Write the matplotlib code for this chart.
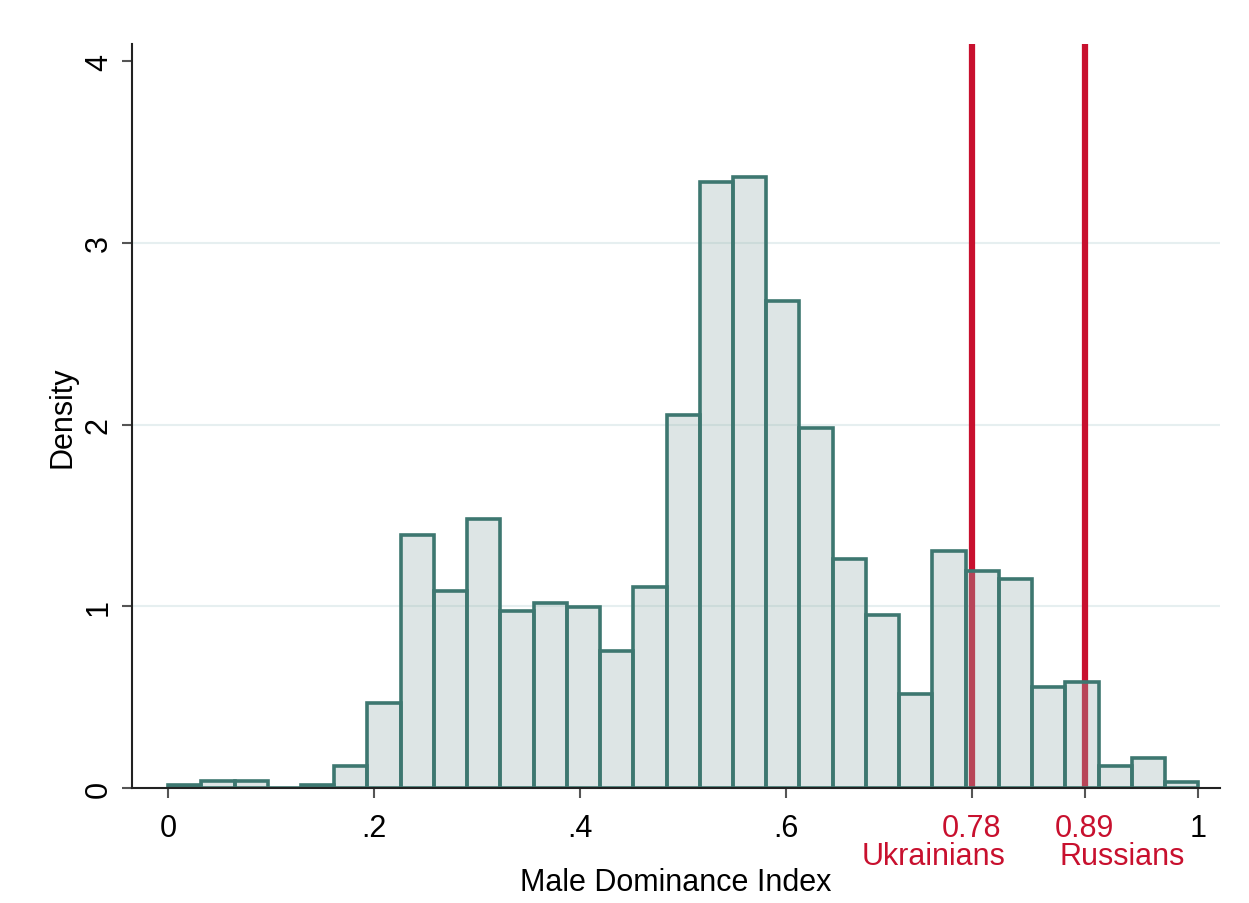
import numpy as np
import matplotlib.pyplot as plt
from matplotlib.transforms import blended_transform_factory

plt.rcParams['font.family'] = ['Liberation Sans', 'DejaVu Sans']

# histogram data (density), 31 equal bins on [0, 1]
bin_edges = np.linspace(0, 1, 32)
density = [0.018, 0.037, 0.037, 0.0, 0.018, 0.12, 0.47, 1.39, 1.086, 1.48,
           0.976, 1.018, 0.998, 0.755, 1.108, 2.05, 3.336, 3.36, 2.678, 1.98,
           1.26, 0.954, 0.517, 1.302, 1.196, 1.15, 0.557, 0.581, 0.119, 0.165,
           0.031]

# reference lines
ref_vals = [0.78, 0.89]
ref_names = ['Ukrainians', 'Russians']

xticks = [0, 0.2, 0.4, 0.6, 0.78, 0.89, 1]
xlabels = ['0', '.2', '.4', '.6', '0.78', '0.89', '1']
yticks = [0, 1, 2, 3, 4]

red = '#C8102E'
fs = 22

fig = plt.figure(figsize=(12.49, 9.04), dpi=100)
ax = fig.add_axes([0.1057, 0.1272, 0.8713, 0.8230])

for v in ref_vals:
    ax.axvline(v, color=red, lw=4.5, zorder=1)

widths = np.diff(bin_edges)
ax.bar(bin_edges[:-1], density, width=widths, align='edge',
       facecolor=(0.60, 0.70, 0.69, 0.33), edgecolor='#3D7770',
       linewidth=2.6, zorder=2)

for y in [1, 2, 3]:
    ax.axhline(y, color='#E6EFF0', lw=1.5, zorder=0)

ax.set_xlim(-0.035, 1.0214)
ax.set_ylim(0, 4.094)

for s in ['top', 'right']:
    ax.spines[s].set_visible(False)
for s in ['left', 'bottom']:
    ax.spines[s].set_color('#222222')
    ax.spines[s].set_linewidth(1.5)

ax.set_xticks(xticks)
ax.set_xticklabels(xlabels, fontsize=fs)
for lab in ax.get_xticklabels():
    if lab.get_text() in ('0.78', '0.89'):
        lab.set_color(red)
ax.set_yticks(yticks)
ax.set_yticklabels([str(t) for t in yticks], fontsize=fs, rotation=90,
                   va='center')
ax.tick_params(axis='both', direction='out', length=7, width=1.5,
               color='#555555', pad=6)
ax.tick_params(axis='x', pad=11)

trans = blended_transform_factory(ax.transData, ax.transAxes)
ax.text(0.7427, -0.0914, ref_names[0], transform=trans, color=red,
        fontsize=fs, ha='center', va='center')
ax.text(0.926, -0.0914, ref_names[1], transform=trans, color=red,
        fontsize=fs, ha='center', va='center')

ax.set_xlabel('Male Dominance Index', fontsize=fs, labelpad=17)
ax.set_ylabel('Density', fontsize=fs, labelpad=5)

fig.savefig('out.png', dpi=100)
